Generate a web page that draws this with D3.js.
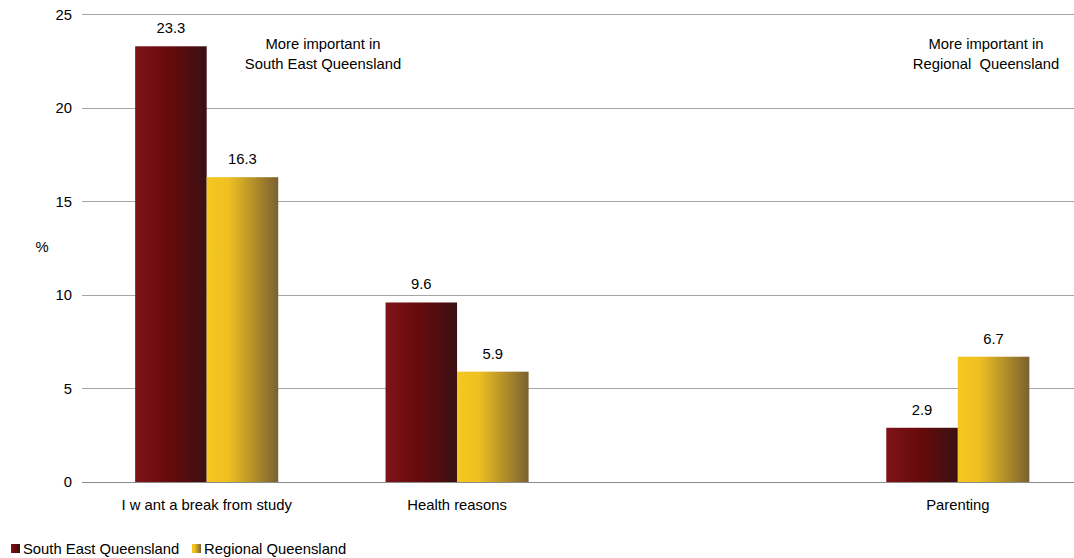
<!DOCTYPE html>
<html><head><meta charset="utf-8">
<script src="https://cdn.jsdelivr.net/npm/d3@7"></script>
<style>body{margin:0;background:#fff}svg{display:block;font-family:"Liberation Sans",Arial,sans-serif}</style>
</head><body><svg id="c" width="1074" height="558"></svg>
<script>
const categories = ["I w ant a break from study", "Health reasons", "", "Parenting"];
const seriesNames = ["South East Queensland", "Regional Queensland"];
const seq = [23.3, 9.6, null, 2.9];
const rq = [16.3, 5.9, null, 6.7];
const yTicks = [0, 5, 10, 15, 20, 25];

const FS = 14.8;
const svg = d3.select("#c");
const M = {l: 81.5, r: 1083, t: 14.5, b: 482};
const x = d3.scaleBand().domain(categories.map((c,i)=>i)).range([M.l, M.r]).paddingInner(0).paddingOuter(0);
const y = d3.scaleLinear().domain([0,25]).range([M.b, M.t]);
const inner = d3.scaleBand().domain([0,1]).range([0, x.bandwidth()]).paddingInner(0).paddingOuter(0.75);

const defs = svg.append("defs");
const g1 = defs.append("linearGradient").attr("id","gr").attr("x1","0").attr("x2","1").attr("y1","0").attr("y2","0");
[["0%","#7e1419"],["45%","#680a0c"],["100%","#3a1113"]].forEach(s=>g1.append("stop").attr("offset",s[0]).attr("stop-color",s[1]));
const g2 = defs.append("linearGradient").attr("id","gy").attr("x1","0").attr("x2","1").attr("y1","0").attr("y2","0");
[["0%","#f5c71f"],["30%","#efc021"],["100%","#7a6130"]].forEach(s=>g2.append("stop").attr("offset",s[0]).attr("stop-color",s[1]));
const fills = ["url(#gr)","url(#gy)"];

svg.append("g").selectAll("line").data(yTicks).join("line")
  .attr("x1", M.l).attr("x2", M.r).attr("y1", d=>y(d)).attr("y2", d=>y(d))
  .attr("stroke", d=>d===0?"#8a8a8a":"#a6a6a6").attr("stroke-width",1).attr("shape-rendering","crispEdges");
svg.append("g").selectAll("text").data(yTicks).join("text")
  .attr("x", 72).attr("y", d=>y(d)+5).attr("text-anchor","end").attr("font-size",FS).attr("fill","#000").text(d=>d);
svg.append("text").attr("x",42).attr("y",252).attr("text-anchor","middle").attr("font-size",FS).text("%");

const data = [seq, rq];
data.forEach((vals, si) => {
  const g = svg.append("g");
  vals.forEach((v, ci) => {
    if (v == null) return;
    const bx = x(ci) + inner(si);
    g.append("rect").attr("x", bx).attr("y", y(v)).attr("width", inner.bandwidth()).attr("height", y(0)-y(v)).attr("fill", fills[si]);
    g.append("text").attr("x", bx + inner.bandwidth()/2).attr("y", y(v)-13).attr("text-anchor","middle").attr("font-size",FS).text(v.toFixed(1));
  });
});

svg.append("g").selectAll("text").data(categories).join("text")
  .attr("x",(d,i)=>x(i)+x.bandwidth()/2).attr("y",509.5).attr("text-anchor","middle").attr("font-size",FS).text(d=>d);

const ann = [{cx:323, lines:["More important in","South East Queensland"]},{cx:986, lines:["More important in","Regional  Queensland"]}];
ann.forEach(a => a.lines.forEach((l,i)=>svg.append("text").attr("x",a.cx).attr("y",48.5+i*20).attr("text-anchor","middle").attr("font-size",FS).style("white-space","pre").text(l)));

const leg = [{x:11, name:seriesNames[0]},{x:192, name:seriesNames[1]}];
leg.forEach((l,i)=>{
  svg.append("rect").attr("x",l.x).attr("y",544).attr("width",9).attr("height",9).attr("fill",fills[i]);
  svg.append("text").attr("x",l.x+12).attr("y",553.5).attr("font-size",FS).text(l.name);
});
</script></body></html>
